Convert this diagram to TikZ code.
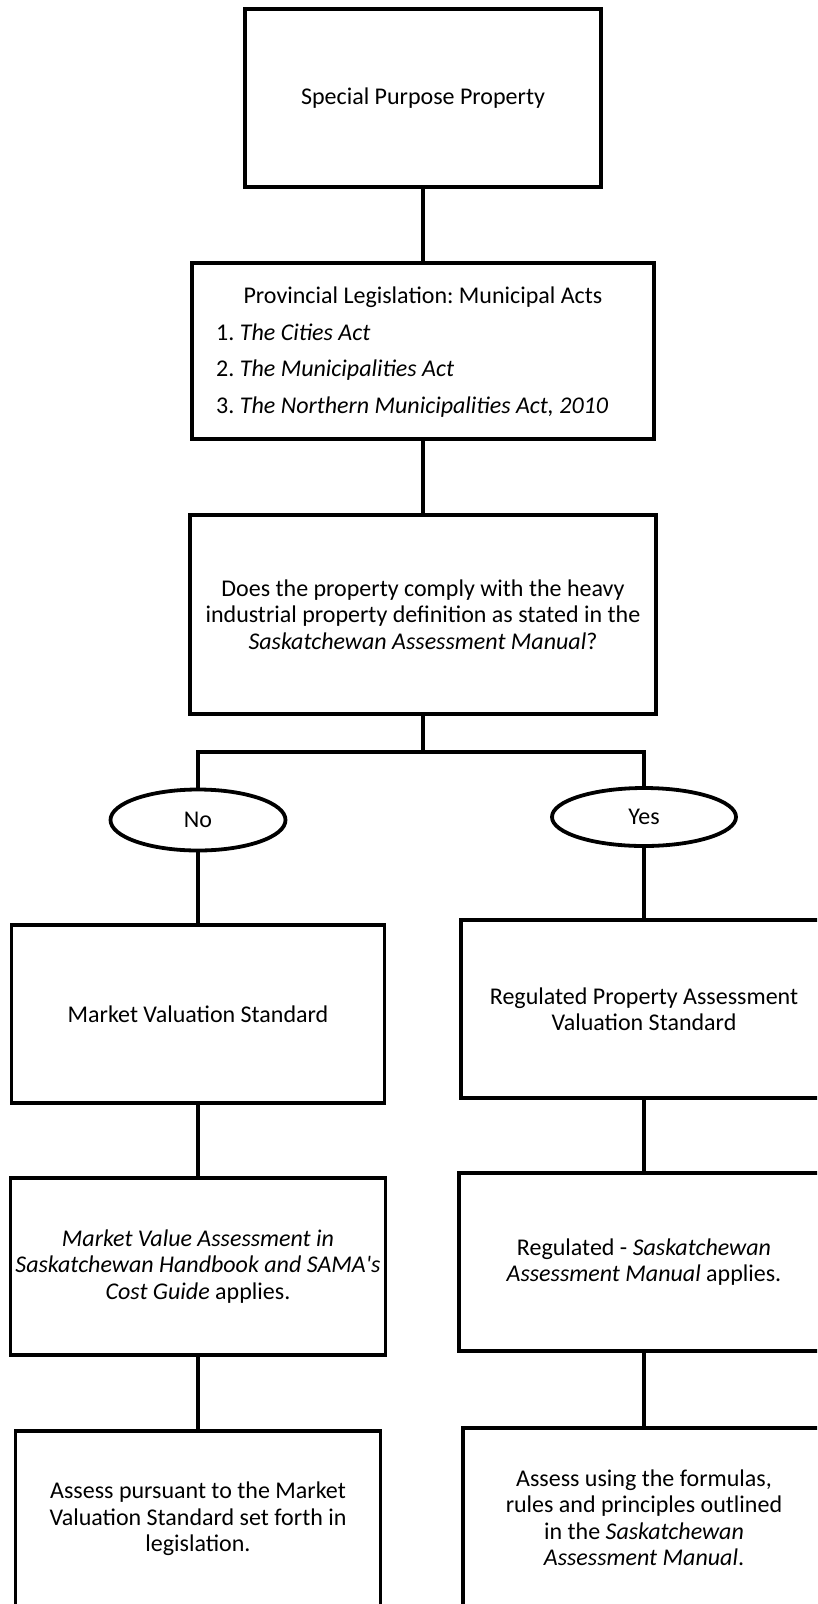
\documentclass[tikz,border=0pt]{standalone}
\usepackage{fontspec}
\setmainfont{Carlito}
\usetikzlibrary{shapes.geometric}
\begin{document}
\frenchspacing
\begin{tikzpicture}[x=1pt,y=-1pt,
  every node/.style={font=\fontsize{24}{26.5}\selectfont\frenchspacing},
  box/.style={draw=black, line width=3.8pt, rectangle, fill=white, align=center, inner sep=0pt},
  oval/.style={draw=black, line width=3.8pt, ellipse, fill=white, inner sep=0pt},
  conn/.style={draw=black, line width=3.8pt},
  txt/.style={inner sep=0pt}]
\useasboundingbox (0,0) rectangle (817,1604);
\clip (0,0) rectangle (817,1604);

% top column
\node[box, minimum width=356pt, minimum height=178pt] (B1) at (423,98) {Special Purpose Property};
\node[box, minimum width=462pt, minimum height=176pt] (B2) at (423,351) {};
\node[txt, anchor=base] (B2h) at (423,303) {Provincial Legislation: Municipal Acts};
\node[txt, anchor=base west] (B2a) at (216,340) {1. \textit{The Cities Act}};
\node[txt, anchor=base west] (B2b) at (216,376) {2. \textit{The Municipalities Act}};
\node[txt, anchor=base west] (B2c) at (216,413) {3. \textit{The Northern Municipalities Act, 2010}};
\node[box, minimum width=466pt, minimum height=199pt] (B3) at (423,614.5)
  {Does the property comply with the heavy\\industrial property definition as stated in the\\\textit{Saskatchewan Assessment Manual}?};
\coordinate (J) at (423,752);

% ovals
\node[oval, minimum width=175pt, minimum height=61pt] (No) at (198,820) {No};
\node[oval, minimum width=184pt, minimum height=58pt] (Yes) at (644,817) {Yes};

% left column
\node[box, minimum width=373pt, minimum height=178pt] (B4L) at (198,1014) {Market Valuation Standard};
\node[box, minimum width=375pt, minimum height=177pt] (B5L) at (198,1266.5)
  {\textit{Market Value Assessment in}\\\textit{Saskatchewan Handbook and SAMA\textquotesingle s}\\\textit{Cost Guide} applies.};
\node[box, minimum width=365pt, minimum height=176pt] (B6L) at (198,1519)
  {Assess pursuant to the Market\\Valuation Standard set forth in\\legislation.};

% right column
\node[box, minimum width=366pt, minimum height=178pt] (B4R) at (644,1009)
  {Regulated Property Assessment\\Valuation Standard};
\node[box, minimum width=370pt, minimum height=178pt] (B5R) at (644,1262)
  {Regulated - \textit{Saskatchewan}\\\textit{Assessment Manual} applies.};
\node[box, minimum width=362pt, minimum height=179pt] (B6R) at (644,1517.5)
  {Assess using the formulas,\\rules and principles outlined\\in the \textit{Saskatchewan}\\\textit{Assessment Manual}.};

% connectors
\draw[conn] (B1) -- (B2);
\draw[conn] (B2) -- (B3);
\draw[conn] (B3) -- (J);
\draw[conn] (No.north) |- (J) -| (Yes.north);
\draw[conn] (No) -- (B4L);
\draw[conn] (B4L) -- (B5L);
\draw[conn] (B5L) -- (B6L);
\draw[conn] (Yes) -- (B4R);
\draw[conn] (B4R) -- (B5R);
\draw[conn] (B5R) -- (B6R);
\end{tikzpicture}
\end{document}
